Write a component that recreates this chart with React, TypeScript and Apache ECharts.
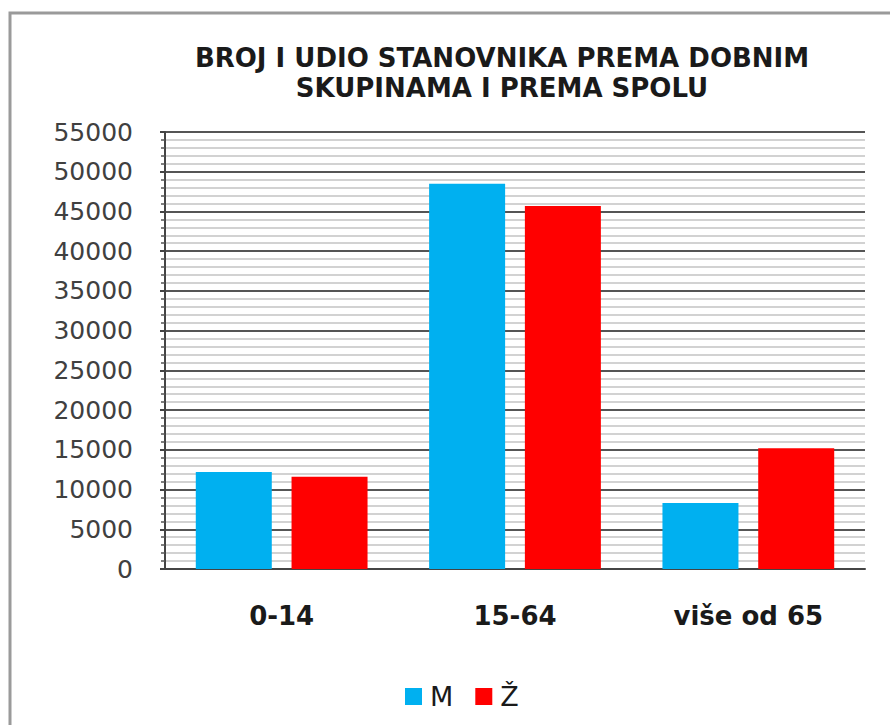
import React, { useEffect, useRef } from "react";
import * as echarts from "echarts";

const titleLines = ["BROJ I UDIO STANOVNIKA PREMA DOBNIM", "SKUPINAMA I PREMA SPOLU"];
const categories = ["0-14", "15-64", "više od 65"];
const seriesNames = ["M", "Ž"];
const maleValues = [12200, 48500, 8300];
const femaleValues = [11600, 45700, 15200];
const yMin = 0;
const yMax = 55000;
const yInterval = 5000;

const FONT = "DejaVu Sans";

export default function App() {
  const ref = useRef<HTMLDivElement>(null);
  useEffect(() => {
    if (!ref.current) return;
    const chart = echarts.init(ref.current, null, { renderer: "svg" });
    chart.setOption({
      animation: false,
      backgroundColor: "#ffffff",
      title: {
        text: titleLines.join("\n"),
        left: 497,
        top: 38,
        textAlign: "center",
        textStyle: {
          fontFamily: FONT,
          fontWeight: "bold",
          fontSize: 26,
          lineHeight: 30,
          color: "#1a1a1a",
        },
      },
      graphic: [
        {
          type: "rect",
          shape: { x: 10, y: 13, width: 1000, height: 1000 },
          style: { fill: "none", stroke: "#9a9a9a", lineWidth: 3 },
          silent: true,
        },
      ],
      legend: {
        data: seriesNames,
        left: 400,
        top: 678,
        itemWidth: 17,
        itemHeight: 17,
        itemGap: 22,
        icon: "rect",
        textStyle: { fontFamily: FONT, fontSize: 27, color: "#1a1a1a", padding: [0, 0, 0, 3] },
      },
      grid: { left: 165, right: 25, top: 132, bottom: 156 },
      xAxis: {
        type: "category",
        data: categories,
        axisLine: { show: true, lineStyle: { color: "#444", width: 2 } },
        axisTick: { show: false },
        axisLabel: {
          fontFamily: FONT,
          fontWeight: "bold",
          fontSize: 26,
          color: "#1a1a1a",
          margin: 34,
        },
      },
      yAxis: {
        type: "value",
        min: yMin,
        max: yMax,
        interval: yInterval,
        axisLine: { show: true, lineStyle: { color: "#444", width: 2 } },
        axisTick: { show: true, length: 5, lineStyle: { color: "#444", width: 2 } },
        minorTick: { show: true, splitNumber: 5, length: 4, lineStyle: { color: "#555", width: 1.5 } },
        axisLabel: {
          fontFamily: FONT,
          fontSize: 25,
          color: "#404040",
          margin: 32,
          formatter: (v: number) => String(v),
        },
        splitLine: { show: true, lineStyle: { color: "#555", width: 2 } },
        minorSplitLine: { show: true, lineStyle: { color: "#d2d2d2", width: 2 } },
      },
      series: [
        {
          name: seriesNames[0],
          type: "bar",
          data: maleValues,
          barWidth: 76,
          barGap: "26%",
          itemStyle: { color: "#00b0f0" },
        },
        {
          name: seriesNames[1],
          type: "bar",
          data: femaleValues,
          barWidth: 76,
          barGap: "26%",
          itemStyle: { color: "#ff0000" },
        },
      ],
    });
    return () => chart.dispose();
  }, []);
  return (
    <div
      ref={ref}
      style={{ position: "absolute", left: 0, top: 0, width: 890, height: 725 }}
    />
  );
}
